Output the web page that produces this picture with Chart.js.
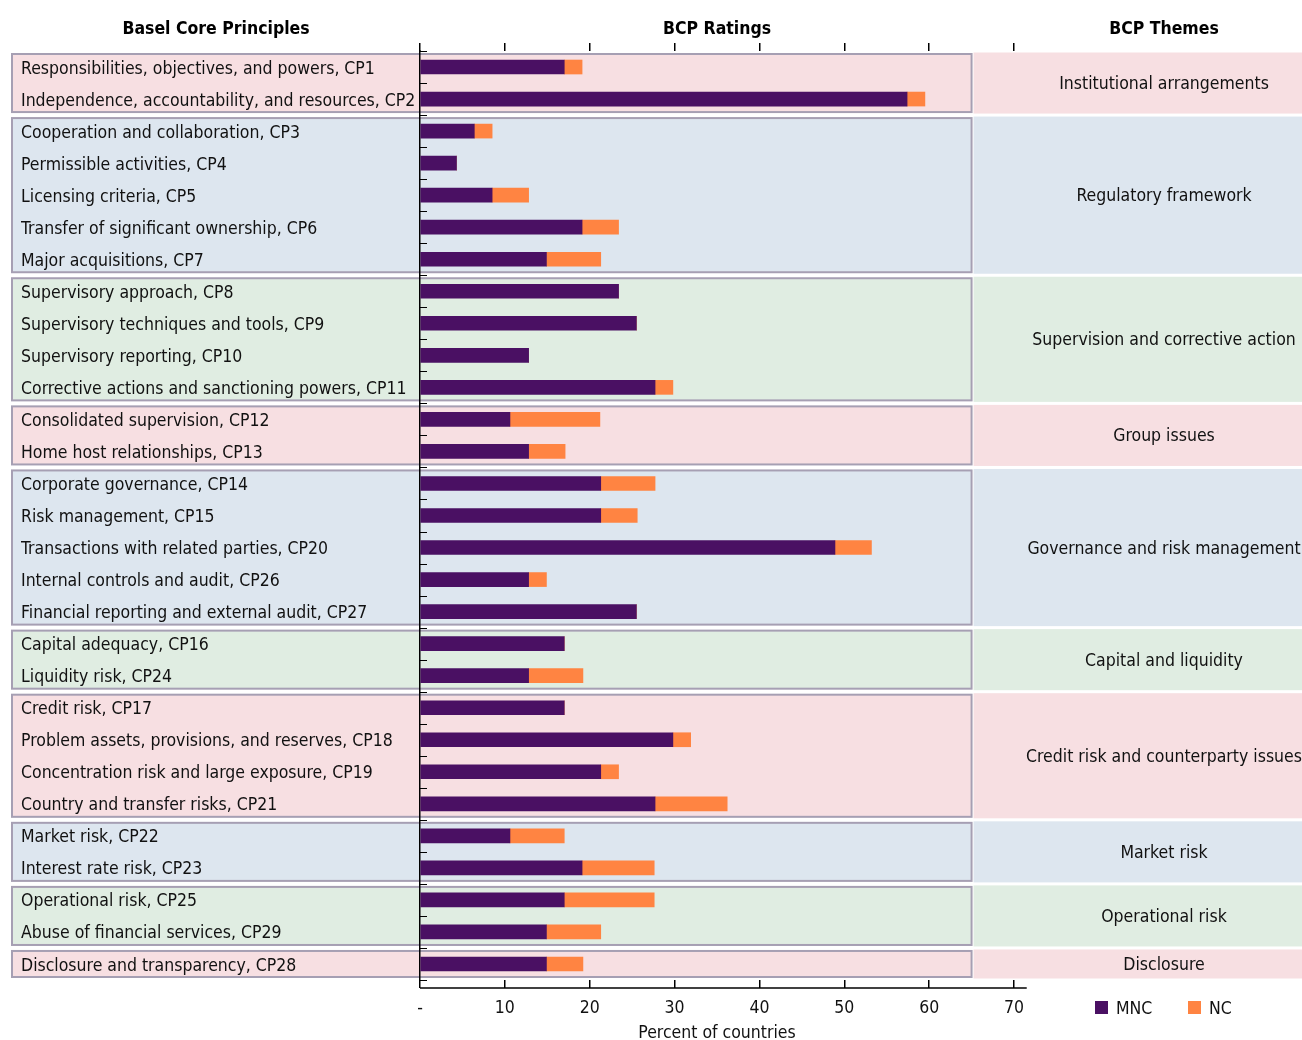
<!DOCTYPE html>
<html>
<head>
<meta charset="utf-8">
<script src="https://cdn.jsdelivr.net/npm/chart.js"></script>
<style>
  html, body { margin: 0; padding: 0; background: #fff; }
  #wrap { width: 1302px; height: 1040px; }
</style>
</head>
<body>
<div id="wrap"><canvas id="chart" width="1302" height="1040"></canvas></div>
<script>
const FONT = "'DejaVu Sans Condensed', 'Liberation Sans Narrow', sans-serif";
const FS = 17.5;

const principles = [
  'Responsibilities, objectives, and powers, CP1',
  'Independence, accountability, and resources, CP2',
  'Cooperation and collaboration, CP3',
  'Permissible activities, CP4',
  'Licensing criteria, CP5',
  'Transfer of significant ownership, CP6',
  'Major acquisitions, CP7',
  'Supervisory approach, CP8',
  'Supervisory techniques and tools, CP9',
  'Supervisory reporting, CP10',
  'Corrective actions and sanctioning powers, CP11',
  'Consolidated supervision, CP12',
  'Home host relationships, CP13',
  'Corporate governance, CP14',
  'Risk management, CP15',
  'Transactions with related parties, CP20',
  'Internal controls and audit, CP26',
  'Financial reporting and external audit, CP27',
  'Capital adequacy, CP16',
  'Liquidity risk, CP24',
  'Credit risk, CP17',
  'Problem assets, provisions, and reserves, CP18',
  'Concentration risk and large exposure, CP19',
  'Country and transfer risks, CP21',
  'Market risk, CP22',
  'Interest rate risk, CP23',
  'Operational risk, CP25',
  'Abuse of financial services, CP29',
  'Disclosure and transparency, CP28'
];

const mncValues = [
  17.0, 57.4, 6.4, 4.3, 8.5, 19.1, 14.9,
  23.4, 25.5, 12.8, 27.7,
  10.6, 12.8,
  21.3, 21.3, 48.9, 12.8, 25.5,
  17.0, 12.8,
  17.0, 29.8, 21.3, 27.7,
  10.6, 19.1,
  17.0, 14.9,
  14.9
];

const ncValues = [
  2.1, 2.1, 2.1, 0, 4.3, 4.3, 6.4,
  0, 0, 0, 2.1,
  10.6, 4.3,
  6.4, 4.3, 4.3, 2.1, 0,
  0, 6.4,
  0, 2.1, 2.1, 8.5,
  6.4, 8.5,
  10.6, 6.4,
  4.3
];

const xTicks = [0, 10, 20, 30, 40, 50, 60, 70];

const themeNames = [
  'Institutional arrangements',
  'Regulatory framework',
  'Supervision and corrective action',
  'Group issues',
  'Governance and risk management',
  'Capital and liquidity',
  'Credit risk and counterparty issues',
  'Market risk',
  'Operational risk',
  'Disclosure'
];
const themeSizes = [2, 5, 4, 2, 5, 2, 4, 2, 2, 1];
const themeFills = ['#f7dfe2', '#dde6ef', '#e0ede2', '#f7dfe2', '#dde6ef', '#e0ede2', '#f7dfe2', '#dde6ef', '#e0ede2', '#f7dfe2'];

const headers = ['Basel Core Principles', 'BCP Ratings', 'BCP Themes'];

// boxes, theme panels, headers, legend, extra axis bits
const decorations = {
  id: 'decorations',
  beforeDraw(chart) {
    const { ctx, chartArea, scales: { x, y } } = chart;
    const rowH = (chartArea.bottom - chartArea.top) / principles.length;
    const boxRight = x.getPixelForValue(65);
    let start = 0;
    ctx.save();
    themeSizes.forEach((n, i) => {
      const top = y.getPixelForValue(start) - rowH / 2;
      const bottom = y.getPixelForValue(start + n - 1) + rowH / 2;
      // right-hand theme panel
      ctx.fillStyle = themeFills[i];
      ctx.fillRect(boxRight + 2, top + 1.5, chart.width - boxRight - 2, bottom - top - 3);
      // left box
      ctx.fillRect(12, top + 3, boxRight - 12, bottom - top - 6);
      ctx.strokeStyle = '#a69fb3';
      ctx.lineWidth = 2;
      ctx.strokeRect(12, top + 3, boxRight - 12, bottom - top - 6);
      // theme text
      ctx.fillStyle = '#111';
      ctx.font = FS + 'px ' + FONT;
      ctx.textAlign = 'center';
      ctx.textBaseline = 'middle';
      ctx.fillText(themeNames[i], 1164, (top + bottom) / 2 + 1.5);
      start += n;
    });
    ctx.restore();
  },
  afterDraw(chart) {
    const { ctx, chartArea, scales: { x } } = chart;
    const rowH = (chartArea.bottom - chartArea.top) / principles.length;
    ctx.save();
    // inward ticks on the category axis
    ctx.strokeStyle = '#000';
    ctx.lineWidth = 1;
    for (let i = 0; i <= principles.length; i++) {
      const py = Math.round(chartArea.top + i * rowH) + 0.5;
      ctx.beginPath();
      ctx.moveTo(chartArea.left, py);
      ctx.lineTo(chartArea.left + 7, py);
      ctx.stroke();
    }
    // bottom axis line
    ctx.lineWidth = 1.5;
    ctx.beginPath();
    ctx.moveTo(chartArea.left, chartArea.bottom + 8);
    ctx.lineTo(x.getPixelForValue(71.5), chartArea.bottom + 8);
    ctx.stroke();
    // headers
    ctx.fillStyle = '#000';
    ctx.font = 'bold ' + FS + 'px ' + FONT;
    ctx.textAlign = 'center';
    ctx.textBaseline = 'middle';
    ctx.fillText(headers[0], 216, 29.5);
    ctx.fillText(headers[1], 717, 29.5);
    ctx.fillText(headers[2], 1164, 29.5);
    // legend
    ctx.font = FS + 'px ' + FONT;
    ctx.textAlign = 'left';
    const legendX = [1095, 1188];
    chart.data.datasets.forEach((ds, i) => {
      ctx.fillStyle = ds.backgroundColor;
      ctx.fillRect(legendX[i], 1001, 13, 13);
      ctx.fillStyle = '#111';
      ctx.fillText(ds.label, legendX[i] + 21, 1009);
    });
    ctx.restore();
  }
};

new Chart(document.getElementById('chart'), {
  type: 'bar',
  data: {
    labels: principles,
    datasets: [
      { label: 'MNC', data: mncValues, backgroundColor: '#4a1063', barThickness: 14 },
      { label: 'NC', data: ncValues, backgroundColor: '#ff8442', barThickness: 14 }
    ]
  },
  options: {
    indexAxis: 'y',
    responsive: false,
    animation: false,
    devicePixelRatio: 1,
    layout: { padding: { left: 21, top: 43, right: 288, bottom: 0 } },
    plugins: { legend: { display: false }, tooltip: { enabled: false } },
    scales: {
      x: {
        stacked: true,
        position: 'bottom',
        min: 0,
        max: 70,
        afterBuildTicks: s => { s.ticks = xTicks.map(v => ({ value: v })); },
        afterFit: s => { s.height = 60; },
        ticks: {
          padding: 10,
          color: '#111',
          font: { family: FONT, size: FS },
          callback: v => (v === 0 ? '-' : v)
        },
        grid: { drawOnChartArea: false, tickLength: 8, color: '#000', lineWidth: 1.5 },
        border: { display: false },
        title: {
          display: true,
          text: 'Percent of countries',
          color: '#111',
          font: { family: FONT, size: FS },
          padding: { top: 0, bottom: -4 }
        }
      },
      xTop: {
        position: 'top',
        min: 0,
        max: 70,
        afterBuildTicks: s => { s.ticks = xTicks.map(v => ({ value: v })); },
        afterFit: s => { s.height = 8; },
        ticks: { display: false },
        grid: { drawOnChartArea: false, tickLength: 8, color: '#000', lineWidth: 1.5 },
        border: { display: false }
      },
      y: {
        stacked: true,
        afterFit: s => { s.width = 399; },
        ticks: {
          crossAlign: 'far',
          labelOffset: 2,
          color: '#111',
          font: { family: FONT, size: FS },
          autoSkip: false
        },
        grid: { display: false },
        border: { display: true, color: '#000', width: 1.5 }
      }
    }
  },
  plugins: [decorations]
});
</script>
</body>
</html>
